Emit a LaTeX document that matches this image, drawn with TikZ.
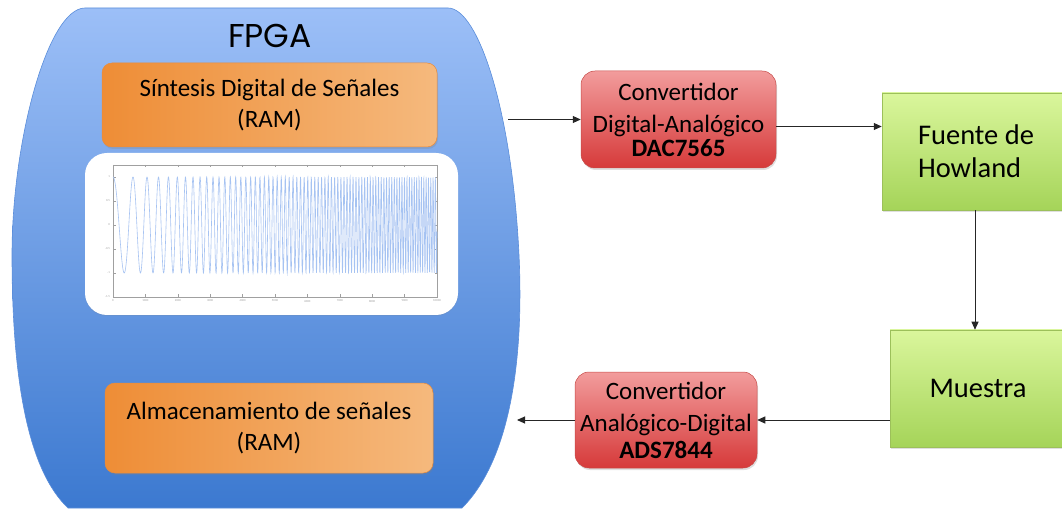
\documentclass[tikz,border=0pt]{standalone}
\usepackage{fontspec}
\setmainfont{Carlito}
\newfontfamily\titlefont{Poppins}
\usetikzlibrary{arrows.meta,shadows,calc}

\definecolor{fpgaTop}{HTML}{9CBFF7}
\definecolor{fpgaBot}{HTML}{3C79D0}
\definecolor{fpgaEdge}{HTML}{5A8DDA}
\definecolor{orL}{HTML}{EE8D36}
\definecolor{orR}{HTML}{F5B97D}
\definecolor{orEdge}{HTML}{E98C3C}
\definecolor{redTop}{HTML}{F29C9C}
\definecolor{redBot}{HTML}{D63A3A}
\definecolor{redEdge}{HTML}{C64B48}
\definecolor{grTop}{HTML}{DAF69C}
\definecolor{grBot}{HTML}{A5D459}
\definecolor{grEdge}{HTML}{9CC05A}
\definecolor{chirpBlue}{HTML}{A6C3F2}
\definecolor{axisGray}{HTML}{A0A0A0}

\tikzset{
  softshadow/.style={drop shadow={opacity=0.25, shadow xshift=1pt, shadow yshift=-2pt}},
  orangebox/.style={rounded corners=10pt, draw=orEdge, line width=0.5pt,
    left color=orL, right color=orR, align=center, softshadow,
    font=\fontsize{25}{31}\selectfont},
  redbox/.style={rounded corners=14pt, draw=redEdge, line width=0.5pt,
    top color=redTop, bottom color=redBot, align=center, softshadow,
    font=\fontsize{25}{32}\selectfont},
  greenbox/.style={draw=grEdge, line width=0.5pt,
    top color=grTop, bottom color=grBot, softshadow,
    font=\fontsize{28.5}{33}\selectfont},
  plotbox/.style={rounded corners=22pt, fill=white, draw=none,
    drop shadow={opacity=0.15, shadow xshift=0pt, shadow yshift=-1pt}},
  arr/.style={draw=black!85, line width=0.9pt, -{Triangle[length=8pt,width=7pt]}},
  ticklbl/.style={font=\fontsize{3}{3}\selectfont, text=axisGray, inner sep=0pt},
  chirp/.style={draw=chirpBlue, line width=0.6pt},
}

\begin{document}
\begin{tikzpicture}[x=1pt, y=-1pt]
  \useasboundingbox (0,0) rectangle (1062,510);

  % FPGA body
  \shade[top color=fpgaTop, bottom color=fpgaBot, draw=fpgaEdge, line width=0.6pt]
    (85,8) -- (448,8)
    .. controls (478,8) and (512,110) .. (519,255)
    .. controls (524,360) and (510,460) .. (462,508)
    -- (68,508)
    .. controls (28,470) and (12,380) .. (12,255)
    .. controls (12,140) and (48,8) .. (85,8) -- cycle;
  \node[font=\titlefont\fontsize{33}{33}\selectfont, anchor=base] (fpga) at (270,48) {FPGA};

  % internal blocks
  \node[orangebox, minimum width=335pt, minimum height=84pt] (synth) at (269.5,105)
    {Síntesis Digital de Señales\\(RAM)};
  \node[orangebox, minimum width=328pt, minimum height=90pt] (store) at (269,428)
    {Almacenamiento de señales\\(RAM)};

  % chirp waveform panel
  \node[plotbox, minimum width=373pt, minimum height=162pt] (panel) at (271.5,234) {};
  \draw[axisGray, line width=0.35pt] (113,165) rectangle (437,297);
  \foreach \i in {0,...,10}{
    \draw[axisGray, line width=0.3pt] ({113+32.4*\i},297) -- ++(0,-2.5);
    \draw[axisGray, line width=0.3pt] ({113+32.4*\i},165) -- ++(0,2.5);
    \pgfmathtruncatemacro{\lab}{1000*\i}
    \node[ticklbl] (xl\i) at ({113+32.4*\i},301) {\lab};
  }
  \foreach \yy/\lab [count=\k] in {177/1,201/0.5,225/0,249/-0.5,273/-1,297/-1.5}{
    \draw[axisGray, line width=0.3pt] (113,\yy) -- ++(2.5,0);
    \draw[axisGray, line width=0.3pt] (437,\yy) -- ++(-2.5,0);
    \node[ticklbl, anchor=east] (yl\k) at (110,\yy) {\lab};
  }
  \draw[chirp] plot[domain=0:324, samples=2000, variable=\t]
    ({113+\t}, {225-48*cos(360*frac(0.0375*\t+(0.025*\t)^2))});

  % external blocks
  \node[redbox, minimum width=195pt, minimum height=97pt] (dac) at (678.5,119.5)
    {Convertidor\\Digital-Analógico\\[-8pt]\textbf{DAC7565}};
  \node[redbox, minimum width=182pt, minimum height=96pt] (adc) at (666,420)
    {Convertidor\\Analógico-Digital\\[-5pt]\textbf{ADS7844}};
  \node[greenbox, minimum width=188pt, minimum height=117pt, align=left] (how) at (976,151.5)
    {Fuente de\\Howland};
  \node[greenbox, minimum width=176pt, minimum height=117pt] (mue) at (978,388.5)
    {Muestra};

  % connections
  \coordinate (fpgaout) at (508,119.5);
  \coordinate (fpgain) at (517,420);
  \coordinate (d1) at ([yshift=-7pt]dac.east);
  \draw[arr] (fpgaout) -- (dac.west);
  \draw[arr] (d1) -- (d1 -| how.west);
  \draw[arr] (how.south -| 975,0) -- (mue.north -| 975,0);
  \draw[arr] (mue.west |- adc.east) -- (adc.east);
  \draw[arr] (adc.west) -- (fpgain);
\end{tikzpicture}
\end{document}
